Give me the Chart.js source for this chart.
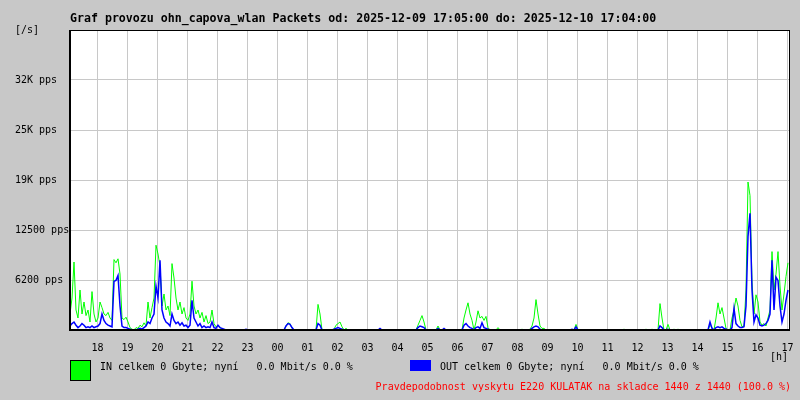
<!DOCTYPE html>
<html>
<head>
<meta charset="utf-8">
<script src="https://cdn.jsdelivr.net/npm/chart.js@4.4.1/dist/chart.umd.min.js"></script>
<style>
  body { margin: 0; background: #c8c8c8; }
  canvas { display: block; }
</style>
</head>
<body>
<canvas id="mrtg" width="800" height="400"></canvas>
<script>
// one sample every 4 minutes, starting 2025-12-09 17:05, values in kpps
const STEP_MIN = 4;
const inPackets = [
  2.0,4.0,8.5,2.5,1.5,5.0,2.0,3.5,1.8,2.5,1.0,4.8,2.0,1.0,1.5,3.5,2.8,2.0,1.8,2.2,
  1.5,1.2,8.8,8.4,8.9,7.0,1.5,1.3,1.6,1.0,0.3,0.1,0,0.3,0.2,0.6,0.4,0.9,0.5,3.5,
  1.5,2.8,4.0,10.6,9.5,8.0,3.0,4.5,2.5,3.0,1.8,8.3,6.5,4.0,2.5,3.5,2.0,2.8,1.5,1.2,
  2.0,6.1,3.0,2.0,2.5,1.5,2.2,1.0,1.8,0.8,1.0,2.5,0.8,0.4,0.6,0.3,0.1,0,0,0,
  0,0,0,0,0,0,0,0,0,0,0,0,0,0,0,0,0,0,0,0,
  0,0,0,0,0,0,0,0,0.5,0.9,0.8,0.2,0,0,0,0,0,0,0,0,
  0,0,0,0,3.2,2.0,0,0,0,0,0,0,0.1,0.6,0.8,1.0,0.4,0,0.2,0,
  0,0,0,0,0,0,0,0,0,0,0,0,0,0,0,0.1,0,0,0,0,
  0,0,0,0,0,0,0,0,0,0,0,0,0,0,0.6,1.2,1.8,1.0,0,0,
  0,0,0,0,0.5,0,0,0,0,0,0,0,0,0,0,0,0,1.5,2.5,3.4,
  2.0,1.2,0,1.0,2.4,1.5,1.7,1.2,1.7,0.3,0,0,0,0,0.3,0,0,0,0,0,
  0,0,0,0,0,0,0.1,0,0,0,0.1,0.5,1.5,3.8,2.0,0.5,0.2,0.2,0,0,
  0,0,0,0,0,0,0,0,0,0,0,0,0,0.7,0,0,0,0,0,0,
  0,0,0,0,0,0,0,0,0,0,0,0,0,0,0,0,0,0.1,0,0,
  0,0,0,0,0,0,0,0,0.1,0,0,0.1,0,0,0,3.3,1.5,0,0,0.7,
  0,0,0.1,0,0.1,0,0,0,0,0,0,0,0,0,0,0,0,0,0,0,
  0.6,0.3,0,1.5,3.4,2.0,2.8,1.5,0.2,0,0,1.5,2.5,4.0,3.0,1.2,0.4,0.5,5.0,18.5,
  16.8,6.0,2.0,4.4,3.5,1.0,0.6,0.8,0.5,1.5,2.5,9.8,5.0,7.0,9.8,5.5,2.5,4.5,6.7,8.4
];
const outPackets = [
  0.5,0.8,1.0,0.6,0.3,0.5,0.8,0.6,0.3,0.4,0.3,0.5,0.3,0.4,0.5,0.8,2.0,1.2,0.8,0.6,
  0.5,0.4,6.1,6.2,6.8,3.0,0.5,0.3,0.3,0.2,0.1,0,0,0,0.1,0.2,0.1,0.3,0.5,1.0,
  0.8,1.5,2.0,5.5,4.0,8.7,2.5,1.5,1.0,0.8,0.5,2.0,1.2,0.8,1.0,0.6,0.9,0.5,0.6,0.3,
  0.6,3.7,1.5,1.0,0.5,0.8,0.3,0.5,0.3,0.4,0.3,1.0,0.3,0.2,0.6,0.3,0.2,0.1,0,0,
  0,0,0,0,0,0,0,0,0.1,0,0,0,0,0,0,0,0,0,0,0,
  0,0,0,0,0,0,0,0,0.5,0.8,0.7,0.3,0,0,0,0,0,0,0,0,
  0,0,0,0,0.8,0.6,0,0,0,0,0,0,0.1,0.2,0.3,0.2,0.1,0,0,0,
  0,0,0,0,0,0,0,0,0,0,0,0,0,0,0,0.2,0,0,0,0,
  0,0,0,0,0,0,0,0,0,0,0,0,0,0,0.3,0.5,0.4,0.3,0,0,
  0,0,0,0,0.2,0,0,0.2,0,0,0,0,0,0,0,0,0,0.6,0.8,0.5,
  0.3,0.2,0,0.3,0.4,0.2,0.9,0.3,0.2,0.1,0,0,0,0,0,0,0,0,0,0,
  0,0,0,0,0,0,0,0,0,0,0,0.2,0.4,0.5,0.4,0.1,0,0,0,0,
  0,0,0,0,0,0,0,0,0,0,0,0.1,0,0.4,0,0,0,0,0,0,
  0,0,0,0,0,0,0,0,0,0,0,0,0,0,0,0,0,0,0,0,
  0,0,0,0,0,0,0,0,0,0,0,0,0,0,0,0.5,0.3,0,0,0.1,
  0,0,0,0,0,0,0,0,0,0,0,0,0,0,0,0,0,0,0,0,
  1.0,0.2,0,0.3,0.4,0.3,0.4,0.2,0.1,0,0,0.3,2.7,0.8,0.5,0.3,0.3,0.4,3.0,11.7,
  14.6,5.0,1.0,1.9,1.5,0.6,0.5,0.6,0.8,1.2,2.0,8.7,2.5,6.6,6.2,3.0,1.0,2.0,3.7,5.0
];

const hourLabels = ['18','19','20','21','22','23','00','01','02','03','04','05',
                    '06','07','08','09','10','11','12','13','14','15','16','17'];
const firstHourMin = 55;   // 18:00 is 55 minutes after 17:05
const yTickValues = [6.25, 12.5, 18.75, 25, 31.25];
const yTickLabels = ['6200 pps', '12500 pps', '19K pps', '25K pps', '32K pps'];

const titleText = 'Graf provozu ohn_capova_wlan Packets od: 2025-12-09 17:05:00 do: 2025-12-10 17:04:00';
const inLegend = 'IN celkem 0 Gbyte; nyní   0.0 Mbit/s 0.0 %';
const outLegend = 'OUT celkem 0 Gbyte; nyní   0.0 Mbit/s 0.0 %';
const noteText = 'Pravdepodobnost vyskytu E220 KULATAK na skladce 1440 z 1440 (100.0 %)';

const MONO = '"DejaVu Sans Mono", "Liberation Mono", monospace';

const toPoints = arr => arr.map((v, i) => ({ x: i * STEP_MIN, y: v }));

const mrtgDecor = {
  id: 'mrtgDecor',
  beforeDraw(chart) {
    const { ctx, chartArea: a } = chart;
    ctx.save();
    ctx.fillStyle = '#ffffff';
    ctx.fillRect(a.left, a.top, a.right - a.left, a.bottom - a.top);
    ctx.restore();
  },
  afterDatasetsDraw(chart) {
    const { ctx, chartArea: a } = chart;
    ctx.save();
    ctx.strokeStyle = '#000';
    ctx.lineWidth = 1;
    ctx.strokeRect(a.left + 0.5, a.top + 0.5, a.right - a.left - 1, a.bottom - a.top);
    ctx.fillStyle = '#000';
    ctx.fillRect(a.left - 1, a.bottom - 1, a.right - a.left + 1, 2);
    ctx.fillRect(a.left - 1, a.top, 2, a.bottom - a.top);

    ctx.textBaseline = 'middle';
    ctx.textAlign = 'left';
    ctx.font = 'bold 11.6px ' + MONO;
    ctx.fillText(titleText, 70, 19);

    ctx.font = '10px ' + MONO;
    ctx.fillText('[/s]', 15, 30);
    ctx.fillText('[h]', 770, 357);

    // legend
    ctx.fillStyle = '#00ff00';
    ctx.fillRect(70, 360, 21, 21);
    ctx.strokeRect(70.5, 360.5, 20, 20);
    ctx.fillStyle = '#0000ff';
    ctx.fillRect(410, 360, 21, 11);
    ctx.fillStyle = '#000';
    ctx.fillText(inLegend, 100, 367);
    ctx.fillText(outLegend, 440, 367);
    ctx.fillStyle = '#ff0000';
    ctx.textAlign = 'right';
    ctx.fillText(noteText, 791, 387);
    ctx.restore();
  }
};

new Chart(document.getElementById('mrtg'), {
  type: 'line',
  data: {
    datasets: [
      { label: 'OUT', data: toPoints(outPackets), borderColor: '#0000ff', borderWidth: 1.5,
        pointRadius: 0, tension: 0, order: 0 },
      { label: 'IN', data: toPoints(inPackets), borderColor: '#00ff00', borderWidth: 1,
        pointRadius: 0, tension: 0, order: 1 }
    ]
  },
  options: {
    responsive: false,
    animation: false,
    events: [],
    layout: { padding: { left: 15, top: 30, right: 10, bottom: 0 } },
    plugins: { legend: { display: false }, tooltip: { enabled: false } },
    scales: {
      x: {
        type: 'linear',
        min: 0,
        max: 1440,
        afterBuildTicks: s => { s.ticks = hourLabels.map((_, k) => ({ value: firstHourMin + 60 * k })); },
        afterFit: s => { s.height = 70; s.paddingLeft = 0; s.paddingRight = 0; },
        grid: { color: '#c8c8c8', drawTicks: false },
        border: { display: false },
        ticks: {
          autoSkip: false, maxRotation: 0, padding: 12, color: '#000',
          font: { family: MONO, size: 10 },
          callback: v => hourLabels[Math.round((v - firstHourMin) / 60)]
        }
      },
      y: {
        min: 0,
        max: 37.5,
        afterBuildTicks: s => { s.ticks = yTickValues.map(v => ({ value: v })); },
        afterFit: s => { s.width = 55; },
        grid: { color: '#c8c8c8', drawTicks: false },
        border: { display: false },
        ticks: {
          crossAlign: 'far', color: '#000',
          font: { family: MONO, size: 10 },
          callback: v => yTickLabels[yTickValues.indexOf(v)]
        }
      }
    }
  },
  plugins: [mrtgDecor]
});
</script>
</body>
</html>
